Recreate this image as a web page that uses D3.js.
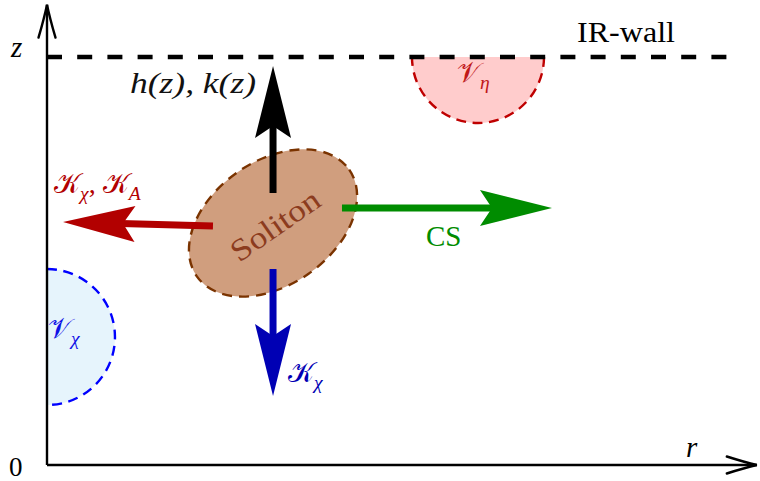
<!DOCTYPE html>
<html>
<head>
<meta charset="utf-8">
<script src="https://cdn.jsdelivr.net/npm/d3@7"></script>
<style>
  html, body { margin: 0; padding: 0; background: #fff; }
  svg { display: block; }
  text { font-family: "Liberation Serif", "DejaVu Serif", serif; }
</style>
</head>
<body>
<svg id="chart" width="760" height="481"></svg>
<script>
// Extent of the (r, z) plane and the position of the IR wall
const rExtent = [0, 10];
const zExtent = [0, 6];
const rAxisEnd = 10.14;
const zAxisEnd = 6.77;
const wallZ = 6;
const wallEnd = 9.72;
const axisTickLabels = ["0"];
const axisNames = ["r", "z"];

// Vacuum regions: centre (r, z), radius (in r units), which half is drawn
const vacuumNames = ["V_eta", "V_chi"];
const vacuumCentreR = [6.157, 0];
const vacuumCentreZ = [6, 1.882];
const vacuumRadius = [0.943, 0.971];
const vacuumHalf = ["lower", "right"];

// Soliton blob
const solitonCentre = [3.229, 3.559];
const solitonLabel = "Soliton";

// Forces acting on the soliton: shaft start and tip in (r, z)
const arrowNames = ["hk", "Kchi", "KchiKA", "CS"];
const arrowFromR = [3.229, 3.229, 2.371, 4.214];
const arrowFromZ = [4.0, 2.882, 3.515, 3.779];
const arrowToR = [3.229, 3.229, 0.229, 7.214];
const arrowToZ = [5.868, 1.015, 3.574, 3.779];

const svg = d3.select("#chart");
const x = d3.scaleLinear().domain(rExtent).range([47, 747]);
const y = d3.scaleLinear().domain(zExtent).range([465, 57]);

const colors = {
  hk: "#000000", Kchi: "#0000b4", KchiKA: "#b20000", CS: "#008c00"
};

// ---- vacuum half-discs ----
const vacStyle = {
  V_eta: { fill: "#ffcccc", stroke: "#bf0000" },
  V_chi: { fill: "#e6f4fc", stroke: "#0000ff" }
};
vacuumNames.forEach((name, i) => {
  const cx = x(vacuumCentreR[i]), cy = y(vacuumCentreZ[i]);
  const rad = x(vacuumCentreR[i] + vacuumRadius[i]) - x(vacuumCentreR[i]);
  const lower = vacuumHalf[i] === "lower";
  // filled half disc (d3.arc angles start at 12 o'clock, clockwise)
  const disc = d3.arc().innerRadius(0).outerRadius(rad)({
    startAngle: lower ? Math.PI / 2 : 0,
    endAngle: lower ? 3 * Math.PI / 2 : Math.PI });
  svg.append("path").attr("d", disc)
    .attr("transform", `translate(${cx},${cy})`)
    .attr("fill", vacStyle[name].fill);
  // dashed rim along the curved side only
  const p = d3.path();
  if (lower) { p.moveTo(rad, 0); p.arc(0, 0, rad, 0, Math.PI, false); }
  else { p.moveTo(0, -rad); p.arc(0, 0, rad, -Math.PI / 2, Math.PI / 2, false); }
  svg.append("path").attr("d", p.toString())
    .attr("transform", `translate(${cx},${cy})`)
    .attr("fill", "none")
    .attr("stroke", vacStyle[name].stroke)
    .attr("stroke-width", 2.4)
    .attr("stroke-dasharray", "10,6.5");
});

// ---- axes ----
const axisColor = "#000";
svg.append("line")
  .attr("x1", x(0)).attr("y1", y(0)).attr("x2", x(rAxisEnd)).attr("y2", y(0))
  .attr("stroke", axisColor).attr("stroke-width", 2.4);
svg.append("line")
  .attr("x1", x(0)).attr("y1", y(0)).attr("x2", x(0)).attr("y2", y(zAxisEnd))
  .attr("stroke", axisColor).attr("stroke-width", 2.4);

function chevron(tx, ty, angleDeg, back, half) {
  svg.append("path")
    .attr("d", `M${-back},${-half} C${-back * 0.6},${-half * 0.55} ${-back * 0.25},${-half * 0.2} 0,0 ` +
               `C${-back * 0.25},${half * 0.2} ${-back * 0.6},${half * 0.55} ${-back},${half}`)
    .attr("transform", `translate(${tx},${ty}) rotate(${angleDeg})`)
    .attr("fill", "none").attr("stroke", axisColor)
    .attr("stroke-width", 2.4).attr("stroke-linecap", "round");
}
chevron(x(rAxisEnd), y(0), 0, 30, 8.5);
chevron(x(0), y(zAxisEnd), -90, 33, 8.5);

// axis names and origin
svg.append("text").attr("x", x(9.13)).attr("y", y(0) - 8)
  .attr("font-size", 29).attr("font-style", "italic").text(axisNames[0]);
svg.append("text").attr("x", 11).attr("y", y(6))
  .attr("font-size", 29).attr("font-style", "italic").text(axisNames[1]);
svg.append("text").attr("x", 9).attr("y", 476)
  .attr("font-size", 27).text(axisTickLabels[0]);

// ---- IR wall ----
svg.append("line")
  .attr("x1", x(0)).attr("y1", y(wallZ)).attr("x2", x(wallEnd)).attr("y2", y(wallZ))
  .attr("stroke", "#000").attr("stroke-width", 4.5)
  .attr("stroke-dasharray", "15,15.2");
svg.append("text").attr("x", 577).attr("y", y(wallZ) - 15)
  .attr("font-size", 29).attr("textLength", 98).attr("lengthAdjust", "spacingAndGlyphs")
  .text("IR-wall");

// ---- soliton ----
const sx = x(solitonCentre[0]), sy = y(solitonCentre[1]);
svg.append("ellipse")
  .attr("cx", 0).attr("cy", 0).attr("rx", 93).attr("ry", 62)
  .attr("transform", `translate(${sx},${sy}) rotate(-35)`)
  .attr("fill", "#d09e7e").attr("stroke", "#7a3300")
  .attr("stroke-width", 2.4).attr("stroke-dasharray", "10,7");
svg.append("text")
  .attr("transform", `translate(${sx + 4},${sy + 5}) rotate(-35)`)
  .attr("text-anchor", "middle").attr("dominant-baseline", "middle")
  .attr("font-size", 31).attr("fill", "#8c3c1e")
  .attr("textLength", 102).attr("lengthAdjust", "spacingAndGlyphs")
  .text(solitonLabel);

// ---- force arrows ----
const headLen = 72, headHalf = 18, notch = 12, shaftW = 7;
arrowNames.forEach((name, i) => {
  const x0 = x(arrowFromR[i]), y0 = y(arrowFromZ[i]);
  const x1 = x(arrowToR[i]), y1 = y(arrowToZ[i]);
  const ang = Math.atan2(y1 - y0, x1 - x0);
  const len = Math.hypot(x1 - x0, y1 - y0);
  const g = svg.append("g")
    .attr("transform", `translate(${x1},${y1}) rotate(${ang * 180 / Math.PI})`);
  g.append("line")
    .attr("x1", -len).attr("y1", 0).attr("x2", -headLen + notch + 2).attr("y2", 0)
    .attr("stroke", colors[name]).attr("stroke-width", shaftW);
  g.append("path")
    .attr("d", `M0,0 L${-headLen},${-headHalf} L${-headLen + notch},0 L${-headLen},${headHalf} Z`)
    .attr("fill", colors[name]);
});

// ---- labels ----
function mathLabel(px, py, parts, color, size) {
  const t = svg.append("text").attr("x", px).attr("y", py)
    .attr("fill", color).attr("font-size", size);
  parts.forEach(p => {
    const s = t.append("tspan").text(p.t);
    if (p.sub) s.attr("font-size", size * 0.7).attr("dy", 7);
    if (p.up) s.attr("dy", -7);
    if (p.it) s.attr("font-style", "italic");
  });
  return t;
}

mathLabel(130, 93, [{ t: "h(z), k(z)", it: true }], "#111", 29)
  .attr("textLength", 126).attr("lengthAdjust", "spacingAndGlyphs");

mathLabel(457, 82, [{ t: "𝒱" }, { t: "η", sub: true, it: true }], "#c01818", 28);
mathLabel(48, 338, [{ t: "𝒱" }, { t: "χ", sub: true, it: true }], "#1010e6", 28);
mathLabel(54, 193, [{ t: "𝒦" }, { t: "χ", sub: true, it: true }, { t: ", ", up: true },
                    { t: "𝒦" }, { t: "A", sub: true, it: true }], "#b20000", 28);
mathLabel(288, 382, [{ t: "𝒦" }, { t: "χ", sub: true, it: true }], "#0000b4", 28);
svg.append("text").attr("x", 426).attr("y", 246)
  .attr("font-size", 29).attr("fill", "#008c00").text("CS");
</script>
</body>
</html>
